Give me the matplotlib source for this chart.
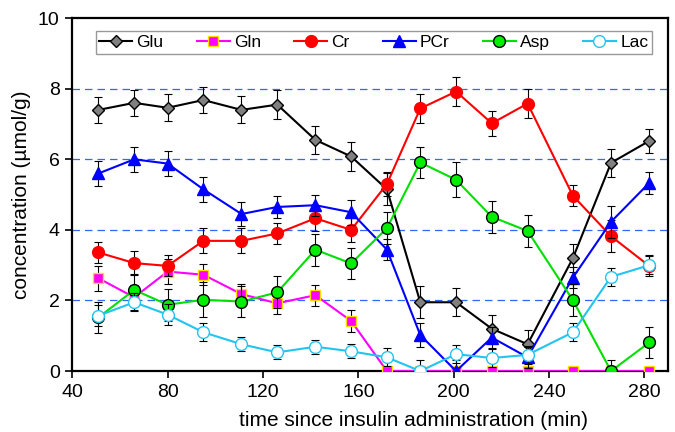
import matplotlib
matplotlib.use("Agg")
import matplotlib.pyplot as plt

plt.rcParams['font.family'] = ['Liberation Sans', 'DejaVu Sans']

# time points (min)
t = [51, 66, 80, 95, 111, 126, 142, 157, 172, 186, 201, 216, 231, 250, 266, 282]

glu = [7.40, 7.60, 7.46, 7.68, 7.40, 7.55, 6.55, 6.08, 5.15, 1.95, 1.95, 1.20, 0.76, 3.20, 5.90, 6.52]
glu_err = [0.37, 0.37, 0.38, 0.38, 0.38, 0.4, 0.4, 0.42, 0.45, 0.45, 0.4, 0.4, 0.4, 0.4, 0.4, 0.35]

gln = [2.63, 2.09, 2.82, 2.73, 2.18, 1.92, 2.15, 1.42, 0, 0, 0, 0, 0, 0, 0, 0]
gln_err = [0.35, 0.35, 0.35, 0.3, 0.3, 0.3, 0.3, 0.3, 0, 0, 0, 0, 0, 0, 0, 0]

cr = [3.36, 3.06, 2.98, 3.69, 3.69, 3.90, 4.33, 4.00, 5.30, 7.44, 7.92, 7.02, 7.58, 4.97, 3.82, 2.98]
cr_err = [0.3, 0.35, 0.3, 0.35, 0.35, 0.3, 0.35, 0.35, 0.35, 0.4, 0.4, 0.35, 0.4, 0.3, 0.45, 0.3]

pcr = [5.60, 6.00, 5.88, 5.15, 4.45, 4.65, 4.70, 4.50, 3.44, 1.02, 0.0, 0.95, 0.39, 2.65, 4.23, 5.33]
pcr_err = [0.35, 0.35, 0.35, 0.35, 0.35, 0.3, 0.3, 0.35, 0.3, 0.35, 0.3, 0.3, 0.3, 0.3, 0.45, 0.3]

asp = [1.52, 2.30, 1.88, 2.02, 1.97, 2.23, 3.44, 3.05, 4.05, 5.91, 5.42, 4.37, 3.97, 2.01, 0.0, 0.81]
asp_err = [0.45, 0.45, 0.45, 0.5, 0.45, 0.45, 0.45, 0.45, 0.45, 0.45, 0.5, 0.45, 0.45, 0.45, 0.3, 0.45]

lac = [1.57, 1.95, 1.60, 1.10, 0.76, 0.53, 0.69, 0.56, 0.39, 0.0, 0.48, 0.37, 0.46, 1.10, 2.67, 3.00]
lac_err = [0.3, 0.25, 0.3, 0.25, 0.2, 0.2, 0.2, 0.2, 0.25, 0.3, 0.25, 0.25, 0.25, 0.25, 0.25, 0.25]

fig = plt.figure(figsize=(6.75, 4.32), dpi=100)
ax = fig.add_axes([0.107, 0.141, 0.883, 0.817])

# dashed reference lines
for yv in [2, 4, 6, 8]:
    ax.axhline(yv, color="#3366ff", linestyle=(0, (6, 4)), linewidth=0.9, zorder=1)

series = [
    ("Glu", glu, glu_err, dict(color="black", marker="D", mfc="gray", mec="black", ms=6.5)),
    ("Gln", gln, gln_err, dict(color="magenta", marker="s", mfc="magenta", mec="#ffdd00", ms=7.5)),
    ("Cr", cr, cr_err, dict(color="red", marker="o", mfc="red", mec="red", ms=8.5)),
    ("PCr", pcr, pcr_err, dict(color="blue", marker="^", mfc="blue", mec="blue", ms=9)),
    ("Asp", asp, asp_err, dict(color="#00e000", marker="o", mfc="#00ee00", mec="black", ms=8.5)),
    ("Lac", lac, lac_err, dict(color="#22c4f0", marker="o", mfc="white", mec="#22c4f0", ms=8.5)),
]

for i, (name, y, err, st) in enumerate(series):
    ax.errorbar(t, y, yerr=err, fmt="none", ecolor="black", elinewidth=0.8,
                capsize=3, capthick=0.8, zorder=2 + i * 2)
    ax.plot(t, y, label=name, linewidth=1.5, markeredgewidth=1.0, zorder=3 + i * 2, **st)

ax.set_xlim(40, 290)
ax.set_ylim(0, 10)
ax.set_xticks([40, 80, 120, 160, 200, 240, 280])
ax.set_yticks([0, 2, 4, 6, 8, 10])
ax.tick_params(direction="out", length=5, width=1.2, labelsize=14, pad=4)
for s in ax.spines.values():
    s.set_linewidth(1.6)

ax.set_xlabel("time since insulin administration (min)", fontsize=15)
ax.xaxis.set_label_coords(0.572, -0.114)
ax.set_ylabel("concentration (µmol/g)", fontsize=15, labelpad=5)

leg = ax.legend(loc="upper center", ncol=6, fontsize=12.5, frameon=True, fancybox=False,
                edgecolor="gray", bbox_to_anchor=(0.506, 0.987), handlelength=1.9,
                columnspacing=1.9, handletextpad=0.25, borderpad=0.2)
leg.get_frame().set_linewidth(1.0)

fig.savefig("out.png", dpi=100)
